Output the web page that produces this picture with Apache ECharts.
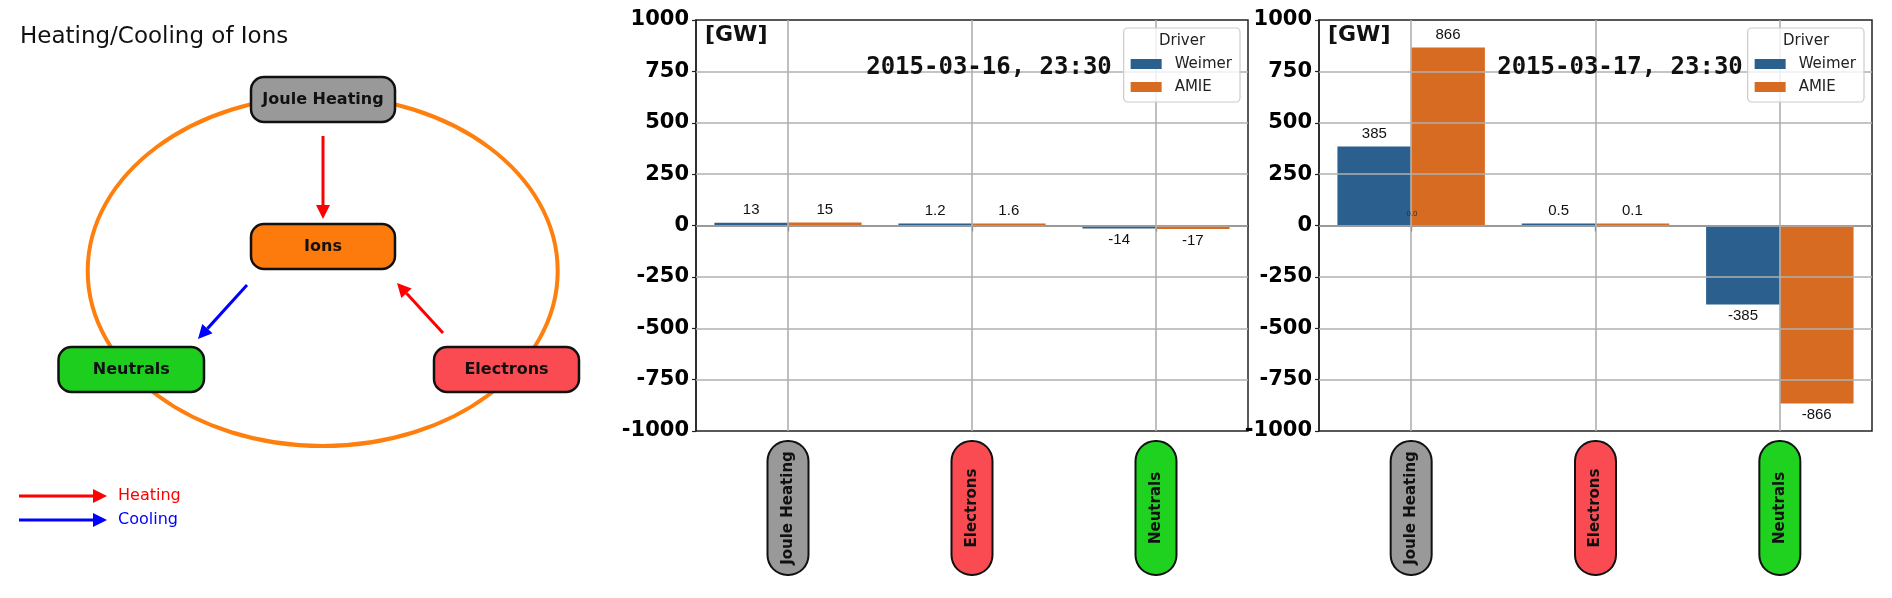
<!DOCTYPE html>
<html>
<head>
<meta charset="utf-8">
<script src="https://cdn.jsdelivr.net/npm/echarts@6/dist/echarts.min.js"></script>
<style>
html,body{margin:0;padding:0;background:#fff;}
#chart{width:1892px;height:598px;}
</style>
</head>
<body>
<div id="chart"></div>
<script>
// ---- data ----
const categories = ['Joule Heating', 'Electrons', 'Neutrals'];
const seriesNames = ['Weimer', 'AMIE'];
const weimer0316 = [13, 1.2, -14];
const amie0316 = [15, 1.6, -17];
const weimer0317 = [385, 0.5, -385];
const amie0317 = [866, 0.1, -866];
const panelTitles = ['2015-03-16, 23:30', '2015-03-17, 23:30'];
const yMin = -1000, yMax = 1000, yStep = 250;
const unitLabel = '[GW]';
const legendTitle = 'Driver';

// ---- styles ----
const BLUE = '#2a5f8e', ORANGE = '#d86b22';
const catColors = {'Joule Heating': '#999999', 'Electrons': '#fb4b52', 'Neutrals': '#1fd21f'};
const catKeys = {'Joule Heating': 'jh', 'Electrons': 'el', 'Neutrals': 'ne'};

const gridInner = [];
for (let v = yMin + yStep; v < yMax; v += yStep) gridInner.push(v);

const grids = [
  {left: 696, top: 20, width: 552, height: 411},
  {left: 1319, top: 20, width: 553, height: 411}
];

const rich = {};
categories.forEach(c => {
  rich[catKeys[c]] = {
    backgroundColor: catColors[c], borderColor: '#111', borderWidth: 2, borderRadius: 19,
    width: 132, height: 39, align: 'center', verticalAlign: 'middle',
    fontFamily: 'DejaVu Sans', fontWeight: 'bold', fontSize: 15, color: '#111'
  };
});

function xAxisFor(i) {
  return {
    gridIndex: i, type: 'category', data: categories,
    axisLine: {show: true, lineStyle: {color: '#222', width: 1.5}},
    axisTick: {show: true, alignWithLabel: true, length: 6, lineStyle: {color: '#222', width: 1.2}},
    axisLabel: {
      interval: 0, rotate: 90, margin: 11,
      formatter: v => '{' + catKeys[v] + '|' + v + '}',
      rich: rich
    },
    splitLine: {show: false}
  };
}
function yAxisFor(i) {
  return {
    gridIndex: i, type: 'value', min: yMin, max: yMax, interval: yStep,
    axisLine: {show: true, lineStyle: {color: '#222', width: 1.5}},
    axisTick: {show: true, length: 4, lineStyle: {color: '#222', width: 1.2}},
    axisLabel: {fontFamily: 'DejaVu Sans', fontWeight: 'bold', fontSize: 21, color: '#000', margin: 7,
      formatter: v => String(v)},
    splitLine: {show: false}
  };
}
function items(arr) {
  return arr.map(v => ({value: v, label: {position: v < 0 ? 'bottom' : 'top', distance: v < 0 ? 4 : 5}}));
}
function barSeries(name, arr, i, color) {
  return {
    name: name, type: 'bar', xAxisIndex: i, yAxisIndex: i, data: items(arr),
    barWidth: '40%', barGap: '0%', barMinHeight: 2,
    itemStyle: {color: color}, z: 2,
    label: {show: true, fontFamily: 'Liberation Sans', fontSize: 15, color: '#111',
      formatter: p => String(p.value)}
  };
}
function gridLineSeries(i) {
  return {
    type: 'line', xAxisIndex: i, yAxisIndex: i, data: [], silent: true,
    markLine: {
      symbol: 'none', silent: true, animation: false, z: 5,
      label: {show: false},
      lineStyle: {color: '#b0b0b0', width: 1.6, type: 'solid'},
      emphasis: {disabled: true},
      data: gridInner.map(v => ({yAxis: v})).concat(categories.map(c => ({xAxis: c})))
    }
  };
}
function legendFor(right) {
  return {
    data: seriesNames, orient: 'vertical', right: right, top: 28, z: 6,
    icon: 'rect', itemWidth: 31, itemHeight: 10, itemGap: 5,
    padding: [27, 8, 6, 7],
    backgroundColor: 'rgba(255,255,255,0.8)', borderColor: '#cccccc', borderWidth: 1.2, borderRadius: 4,
    textStyle: {fontFamily: 'DejaVu Sans', fontSize: 15, color: '#222', lineHeight: 18, padding: [0, 0, 0, 8]},
    selectedMode: false
  };
}

// ---- diagram (left panel) ----
const TXT = 100;
function arrow(x1, y1, x2, y2, color) {
  const dx = x2 - x1, dy = y2 - y1, L = Math.sqrt(dx * dx + dy * dy);
  const ux = dx / L, uy = dy / L, hl = 14, hw = 7;
  const bx = x2 - ux * hl, by = y2 - uy * hl;
  return [
    {type: 'line', z: TXT, shape: {x1: x1, y1: y1, x2: bx, y2: by}, style: {stroke: color, lineWidth: 3}},
    {type: 'polygon', z: TXT, shape: {points: [[x2, y2], [bx - uy * hw, by + ux * hw], [bx + uy * hw, by - ux * hw]]}, style: {fill: color}}
  ];
}
function box(x, y, w, h, fill, label) {
  return [
    {type: 'rect', z: TXT, shape: {x: x, y: y, width: w, height: h, r: 13}, style: {fill: fill, stroke: '#111', lineWidth: 2.5}},
    {type: 'text', z: TXT + 1, x: x + w / 2, y: y + h / 2, style: {text: label, align: 'center', verticalAlign: 'middle',
      fontFamily: 'DejaVu Sans', fontWeight: 'bold', fontSize: 16, fill: '#111'}}
  ];
}
let diagram = [
  {type: 'text', z: TXT, x: 20, y: 37, style: {text: 'Heating/Cooling of Ions', verticalAlign: 'middle',
    fontFamily: 'DejaVu Sans', fontSize: 23, fill: '#111'}},
  {type: 'ellipse', z: TXT - 1, shape: {cx: 322.7, cy: 271, rx: 235, ry: 175}, style: {fill: 'none', stroke: '#ff7f0e', lineWidth: 4}}
];
diagram = diagram
  .concat(box(251, 77, 144, 45, '#999999', 'Joule Heating'))
  .concat(box(251, 224, 144, 45, '#fd7a0c', 'Ions'))
  .concat(box(58.5, 347, 145.5, 45, '#1ece1e', 'Neutrals'))
  .concat(box(434, 347, 145, 45, '#fa4b52', 'Electrons'))
  .concat(arrow(323, 136, 323, 219, '#ff0000'))
  .concat(arrow(247, 285, 198, 339, '#0000ff'))
  .concat(arrow(443, 333, 397, 283, '#ff0000'))
  .concat(arrow(19, 496, 107, 496, '#ff0000'))
  .concat(arrow(19, 520, 107, 520, '#0000ff'))
  .concat([
    {type: 'text', z: TXT, x: 118, y: 496, style: {text: 'Heating', verticalAlign: 'middle', fontFamily: 'DejaVu Sans', fontSize: 16, fill: '#ff0000'}},
    {type: 'text', z: TXT, x: 118, y: 520, style: {text: 'Cooling', verticalAlign: 'middle', fontFamily: 'DejaVu Sans', fontSize: 16, fill: '#0000ff'}}
  ]);

// ---- panel texts ----
const panelText = [];
[[989, 705, 1182], [1620, 1328, 1806]].forEach((p, i) => {
  panelText.push({type: 'text', z: TXT, x: p[0], y: 68, style: {text: panelTitles[i], align: 'center', verticalAlign: 'middle',
    fontFamily: 'DejaVu Sans Mono', fontWeight: 'bold', fontSize: 24, fill: '#111'}});
  panelText.push({type: 'text', z: TXT, x: p[1], y: 35, style: {text: unitLabel, verticalAlign: 'middle',
    fontFamily: 'DejaVu Sans', fontWeight: 'bold', fontSize: 22, fill: '#111'}});
  panelText.push({type: 'text', z: TXT, x: p[2], y: 41, style: {text: legendTitle, align: 'center', verticalAlign: 'middle',
    fontFamily: 'DejaVu Sans', fontSize: 15, fill: '#222'}});
});
panelText.push({type: 'text', z: TXT, x: 1412, y: 214, style: {text: '0.0', align: 'center', verticalAlign: 'middle',
  fontFamily: 'DejaVu Sans', fontSize: 7, fill: '#333'}});

const chart = echarts.init(document.getElementById('chart'), null, {renderer: 'canvas'});
chart.setOption({
  animation: false,
  backgroundColor: '#ffffff',
  grid: grids.map(g => Object.assign({show: true, borderColor: '#222', borderWidth: 1.5, backgroundColor: 'transparent', containLabel: false}, g)),
  legend: [legendFor(652), legendFor(28)],
  xAxis: [xAxisFor(0), xAxisFor(1)],
  yAxis: [yAxisFor(0), yAxisFor(1)],
  series: [
    barSeries('Weimer', weimer0316, 0, BLUE),
    barSeries('AMIE', amie0316, 0, ORANGE),
    barSeries('Weimer', weimer0317, 1, BLUE),
    barSeries('AMIE', amie0317, 1, ORANGE),
    gridLineSeries(0),
    gridLineSeries(1)
  ],
  graphic: {elements: diagram.concat(panelText)}
});
</script>
</body>
</html>
